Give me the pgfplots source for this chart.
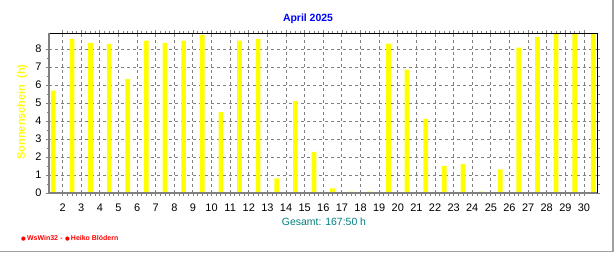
\documentclass[border=0pt]{standalone}
\usepackage{fontspec}
\setmainfont{Liberation Sans}
\newfontfamily\dejavu{DejaVu Sans}
\usepackage{pgfplots}
\pgfplotsset{compat=1.18}
\definecolor{gridgray}{RGB}{128,128,128}
\definecolor{axgray}{RGB}{128,128,128}
\definecolor{framegray}{RGB}{160,160,160}
\definecolor{sunyellow}{RGB}{255,255,0}
\definecolor{tealtxt}{RGB}{0,128,128}
\definecolor{titleblue}{RGB}{0,0,255}
\definecolor{footred}{RGB}{255,0,0}
\begin{document}
\begin{tikzpicture}
\useasboundingbox (0,0) rectangle (616bp,253bp);
\fill[white] (0,0) rectangle (616bp,253bp);
\begin{axis}[
  at={(49bp,60bp)}, anchor=south west,
  width=548bp, height=160bp, scale only axis,
  xmin=0.77, xmax=30.2, ymin=0, ymax=8.9,
  axis line style={draw=none},
  ybar, bar width=4.7bp,
  xtick={1.5,2.5,...,29.5},
  xticklabels={2,3,4,5,6,7,8,9,10,11,12,13,14,15,16,17,18,19,20,21,22,23,24,25,26,27,28,29,30},
  minor x tick num=3,
  ytick={0,1,...,8},
  minor y tick num=1,
  tick align=outside,
  major tick length=3bp, minor tick length=2.5bp,
  every tick/.style={axgray, line width=0.8bp},
  xmajorgrids, ymajorgrids,
  major grid style={gridgray, dash pattern=on 3bp off 3bp, line width=0.9bp},
  tick label style={font=\fontsize{11}{12}\selectfont},
  /pgf/number format/assume math mode=true,
  xticklabel style={yshift=-4bp},
  yticklabel style={xshift=-1bp},
  clip=false,
]
\addplot[fill=sunyellow, draw=none] coordinates {
(1,5.69) (2,8.58) (3,8.35) (4,8.30) (5,6.34) (6,8.47) (7,8.35) (8,8.47)
(9,8.80) (10,4.50) (11,8.47) (12,8.58) (13,0.82) (14,5.12) (15,2.29)
(16,0.26) (17,0.08) (18,0.08) (19,8.31) (20,6.86) (21,4.13) (22,1.51)
(23,1.62) (24,0.08) (25,1.32) (26,8.09) (27,8.69) (28,8.9) (29,8.9) (30,8.9)
};
\draw[black, line width=1bp] (rel axis cs:0,1) -- (rel axis cs:1,1) -- (rel axis cs:1,0);
\draw[axgray, line width=2bp] (rel axis cs:0,1) -- (rel axis cs:0,0) -- (rel axis cs:1,0);
\end{axis}
\node[font=\bfseries\fontsize{10.5}{12}\selectfont, text=titleblue] at (308bp,234bp) {April 2025};
\node[font=\bfseries\fontsize{11}{12}\selectfont, text=sunyellow, rotate=90] at (22bp,141bp) {Sonnenschein~~(h)};
\node[font=\fontsize{10.5}{12}\selectfont, text=tealtxt] at (324bp,31.5bp) {Gesamt: 167:50 h};
\node[font=\bfseries\fontsize{7}{8}\selectfont, text=footred, anchor=west, inner sep=0] at (21bp,15bp) {{\dejavu\fontsize{5.5}{6}\selectfont ●}\,WsWin32\,\,-\,\,{\dejavu\fontsize{5.5}{6}\selectfont ●}\,Heiko Blödern};
\draw[framegray, line width=1.3bp] (613bp,253bp) -- (613bp,1.3bp) -- (0,1.3bp);
\end{tikzpicture}
\end{document}
